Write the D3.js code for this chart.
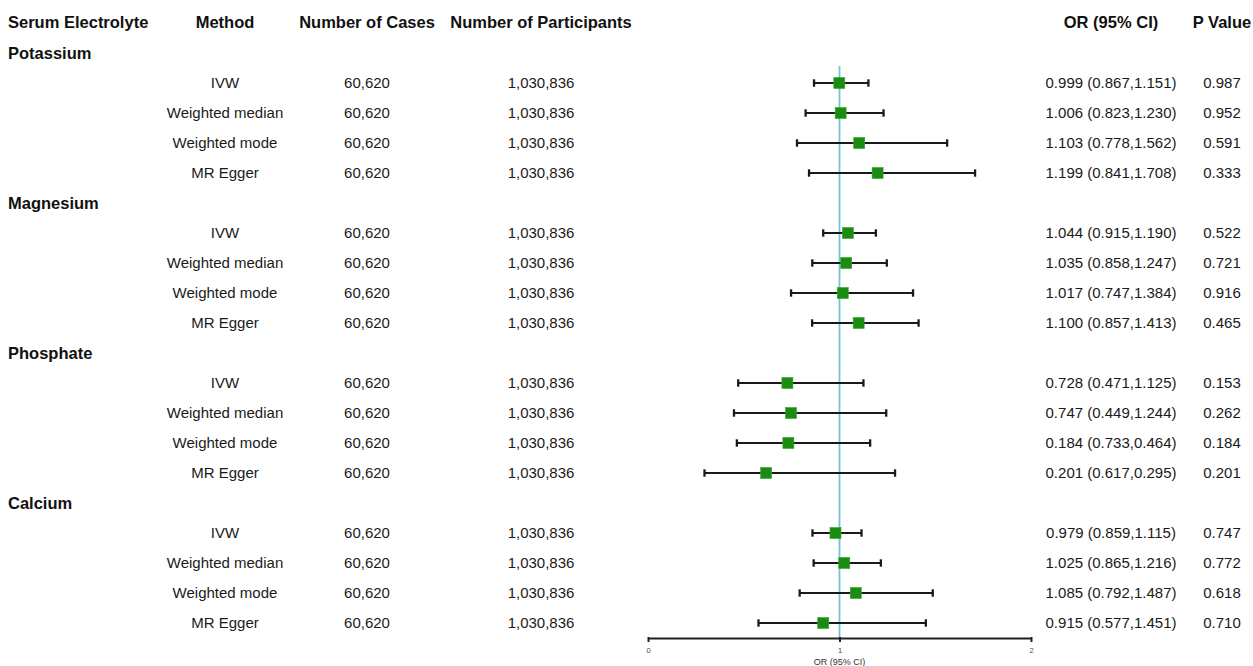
<!DOCTYPE html>
<html>
<head>
<meta charset="utf-8">
<script src="https://cdn.jsdelivr.net/npm/d3@7"></script>
<style>
  html, body { margin: 0; padding: 0; background: #fff; }
  svg { display: block; font-family: "Liberation Sans", Arial, Helvetica, sans-serif; }
</style>
</head>
<body>
<svg id="chart" width="1253" height="666"></svg>
<script>
// Table content
const groups = ["Potassium", "Magnesium", "Phosphate", "Calcium"];
const methods = ["IVW", "Weighted median", "Weighted mode", "MR Egger"];
const cases = "60,620";
const participants = "1,030,836";

// Odds ratio estimates and 95% CI bounds per group (rows follow `methods`)
const orEst = [
  [0.999, 1.006, 1.103, 1.199],
  [1.044, 1.035, 1.017, 1.100],
  [0.728, 0.747, 0.733, 0.617],
  [0.979, 1.025, 1.085, 0.915]
];
const ciLow = [
  [0.867, 0.823, 0.778, 0.841],
  [0.915, 0.858, 0.747, 0.857],
  [0.471, 0.449, 0.464, 0.295],
  [0.859, 0.865, 0.792, 0.577]
];
const ciHigh = [
  [1.151, 1.230, 1.562, 1.708],
  [1.190, 1.247, 1.384, 1.413],
  [1.125, 1.244, 1.160, 1.290],
  [1.115, 1.216, 1.487, 1.451]
];
// Printed OR (95% CI) column
const orText = [
  ["0.999 (0.867,1.151)", "1.006 (0.823,1.230)", "1.103 (0.778,1.562)", "1.199 (0.841,1.708)"],
  ["1.044 (0.915,1.190)", "1.035 (0.858,1.247)", "1.017 (0.747,1.384)", "1.100 (0.857,1.413)"],
  ["0.728 (0.471,1.125)", "0.747 (0.449,1.244)", "0.184 (0.733,0.464)", "0.201 (0.617,0.295)"],
  ["0.979 (0.859,1.115)", "1.025 (0.865,1.216)", "1.085 (0.792,1.487)", "0.915 (0.577,1.451)"]
];
const pValues = [
  ["0.987", "0.952", "0.591", "0.333"],
  ["0.522", "0.721", "0.916", "0.465"],
  ["0.153", "0.262", "0.184", "0.201"],
  ["0.747", "0.772", "0.618", "0.710"]
];
const headers = ["Serum Electrolyte", "Method", "Number of Cases", "Number of Participants", "OR (95% CI)", "P Value"];
const axisTicks = [0, 1, 2];
const axisTitle = "OR (95% CI)";

// Flatten into row records (group label rows + method rows)
const rows = [];
groups.forEach((g, gi) => {
  rows.push({ id: "g" + gi, type: "group", label: g });
  methods.forEach((m, mi) => {
    rows.push({
      id: "r" + gi + "_" + mi, type: "row", method: m,
      cases, participants,
      or: orEst[gi][mi], lo: ciLow[gi][mi], hi: ciHigh[gi][mi],
      orText: orText[gi][mi], p: pValues[gi][mi]
    });
  });
});

const svg = d3.select("#chart");

const y = d3.scalePoint().domain(rows.map(r => r.id)).range([53, 623]);
const x = d3.scaleLinear().domain([0, 2]).range([648, 1031]);

const col = { group: 8, method: 225, cases: 367, part: 541, or: 1111, p: 1222 };
const headerY = 22;
const textColor = "#1a1a1a";

// Column headers
const hdr = svg.append("g").attr("font-weight", "bold").attr("font-size", 16.5).attr("fill", "#111");
const hdrPos = [
  [col.group, "start"], [col.method, "middle"], [col.cases, "middle"],
  [col.part, "middle"], [col.or, "middle"], [col.p, "middle"]
];
headers.forEach((h, i) => {
  hdr.append("text").attr("x", hdrPos[i][0]).attr("y", headerY).attr("dy", "0.35em")
    .attr("text-anchor", hdrPos[i][1]).text(h);
});

// Group labels
svg.append("g").selectAll("text").data(rows.filter(r => r.type === "group")).join("text")
  .attr("x", col.group).attr("y", d => y(d.id)).attr("dy", "0.35em")
  .attr("font-weight", "bold").attr("font-size", 16.5).attr("fill", "#111")
  .text(d => d.label);

// Table cells
const dataRows = rows.filter(r => r.type === "row");
const cells = svg.append("g").attr("font-size", 15).attr("fill", textColor).attr("text-anchor", "middle");
const cellCols = [
  [col.method, d => d.method], [col.cases, d => d.cases], [col.part, d => d.participants],
  [col.or, d => d.orText], [col.p, d => d.p]
];
cellCols.forEach(([cx, fn]) => {
  cells.append("g").selectAll("text").data(dataRows).join("text")
    .attr("x", cx).attr("y", d => y(d.id)).attr("dy", "0.35em").text(fn);
});

// Reference line at OR = 1
svg.append("line")
  .attr("x1", x(1)).attr("x2", x(1)).attr("y1", 66).attr("y2", 638)
  .attr("stroke", "#6cc6d4").attr("stroke-width", 1.8);

// Confidence intervals
const ci = svg.append("g").attr("stroke", "#1a1a1a").attr("stroke-width", 2);
ci.selectAll("line.ci").data(dataRows).join("line").attr("class", "ci")
  .attr("x1", d => x(d.lo)).attr("x2", d => x(d.hi))
  .attr("y1", d => y(d.id)).attr("y2", d => y(d.id));
const capH = 3.7;
ci.selectAll("line.capl").data(dataRows).join("line").attr("class", "capl")
  .attr("stroke-width", 2.3)
  .attr("x1", d => x(d.lo)).attr("x2", d => x(d.lo))
  .attr("y1", d => y(d.id) - capH).attr("y2", d => y(d.id) + capH);
ci.selectAll("line.caph").data(dataRows).join("line").attr("class", "caph")
  .attr("stroke-width", 2.3)
  .attr("x1", d => x(d.hi)).attr("x2", d => x(d.hi))
  .attr("y1", d => y(d.id) - capH).attr("y2", d => y(d.id) + capH);

// Point estimates
const sq = 11;
svg.append("g").selectAll("rect").data(dataRows).join("rect")
  .attr("x", d => x(d.or) - sq / 2).attr("y", d => y(d.id) - sq / 2)
  .attr("width", sq).attr("height", sq)
  .attr("fill", "#1b8c12").attr("stroke", "#3aa32f").attr("stroke-width", 0.6);

// Bottom axis
const axisY = 638;
const axis = d3.axisBottom(x).tickValues(axisTicks).tickFormat(d3.format("d")).tickSize(4).tickSizeOuter(0);
const ag = svg.append("g").attr("transform", `translate(0,${axisY})`).call(axis);
ag.select(".domain").attr("stroke", "#222").attr("stroke-width", 2);
ag.selectAll(".tick line").attr("stroke", "#222").attr("stroke-width", 2).attr("y1", -1);
ag.selectAll(".tick text").attr("font-size", 7.5).attr("fill", "#444").attr("y", 10)
  .attr("font-family", "Liberation Sans, Arial, sans-serif");

svg.append("text").attr("x", x(1)).attr("y", 662).attr("dy", "0.35em")
  .attr("text-anchor", "middle").attr("font-size", 9).attr("fill", "#333").text(axisTitle);
</script>
</body>
</html>
